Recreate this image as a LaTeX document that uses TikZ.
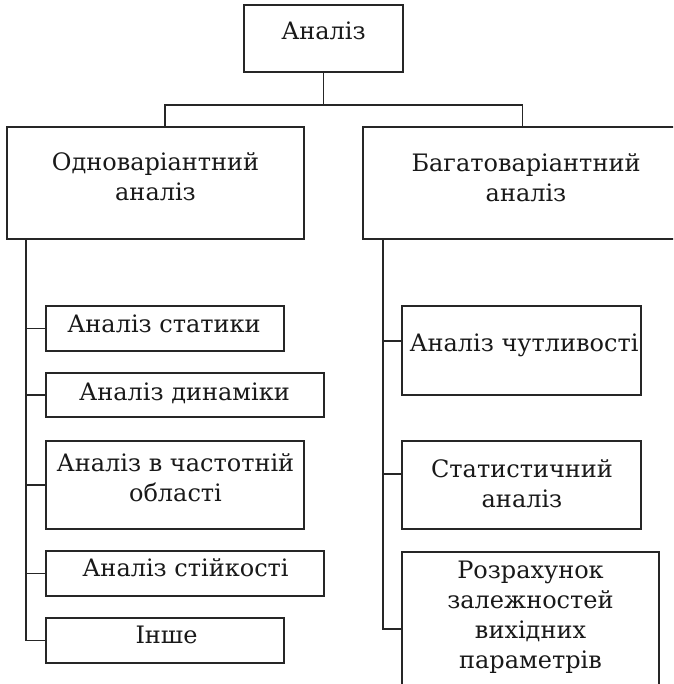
\documentclass[tikz,border=0pt]{standalone}
\usepackage{fontspec}
\setmainfont{DejaVu Serif}
\begin{document}
\begin{tikzpicture}[x=1pt,y=-1pt,
  box/.style={draw=black!85, line width=1.5pt, rectangle, inner sep=0pt, fill=white},
  lbl/.style={font=\fontsize{24}{30}\selectfont, text=black!90, align=center, inner sep=0pt},
  wire/.style={draw=black!85, line width=1.5pt}]
\clip (0,0) rectangle (673,684);
\fill[white] (0,0) rectangle (673,684);

% boxes
\node[box, minimum width=159pt, minimum height=67pt]  (top)  at (323.5,38.5) {};
\node[box, minimum width=297pt, minimum height=112pt] (one)  at (155.5,183) {};
\node[box, minimum width=326pt, minimum height=112pt] (many) at (526,183) {};

\node[box, minimum width=238pt, minimum height=45pt] (s1) at (165,328.5) {};
\node[box, minimum width=278pt, minimum height=44pt] (s2) at (185,395) {};
\node[box, minimum width=258pt, minimum height=88pt] (s3) at (175,485) {};
\node[box, minimum width=278pt, minimum height=45pt] (s4) at (185,573.5) {};
\node[box, minimum width=238pt, minimum height=45pt] (s5) at (165,640.5) {};

\node[box, minimum width=239pt, minimum height=89pt]  (m1) at (521.5,350.5) {};
\node[box, minimum width=239pt, minimum height=88pt]  (m2) at (521.5,485) {};
\node[box, minimum width=257pt, minimum height=154pt] (m3) at (530.5,629) {};

% labels
\node[lbl] at (323.5,30.5) {Аналіз};
\node[lbl] at (155.5,177) {Одноваріантний\\аналіз};
\node[lbl] at (526,178) {Багатоваріантний\\аналіз};
\node[lbl] at (164,324) {Аналіз статики};
\node[lbl] at (184.5,393) {Аналіз динаміки};
\node[lbl] at (175.5,478) {Аналіз в частотній\\області};
\node[lbl] at (185.5,568) {Аналіз стійкості};
\node[lbl] at (166.5,634.5) {Інше};
\node[lbl] at (524,345.3) {Аналіз чутливості};
\node[lbl] at (522,483.3) {Статистичний\\аналіз};
\node[lbl] at (530.5,617) {Розрахунок\\залежностей\\вихідних\\параметрів};

% top-level split
\coordinate (jl) at (165,105);
\coordinate (jr) at (522.7,105);
\draw[wire] (top.south) -- (top.south |- jl);
\draw[wire] (jl |- one.north) -- (jl) -- (jr) -- (jr |- many.north);

% left bus
\coordinate (lb) at (26,0);
\draw[wire] (lb |- one.south) |- (s5.west);
\foreach \n in {s1,s2,s3,s4}
  \draw[wire] (lb |- \n.west) -- (\n.west);

% right bus
\coordinate (rb) at (383,0);
\draw[wire] (rb |- many.south) |- (m3.west);
\draw[wire] (rb |- 0,341) -- (m1.west |- 0,341);
\draw[wire] (rb |- 0,474) -- (m2.west |- 0,474);
\end{tikzpicture}
\end{document}
